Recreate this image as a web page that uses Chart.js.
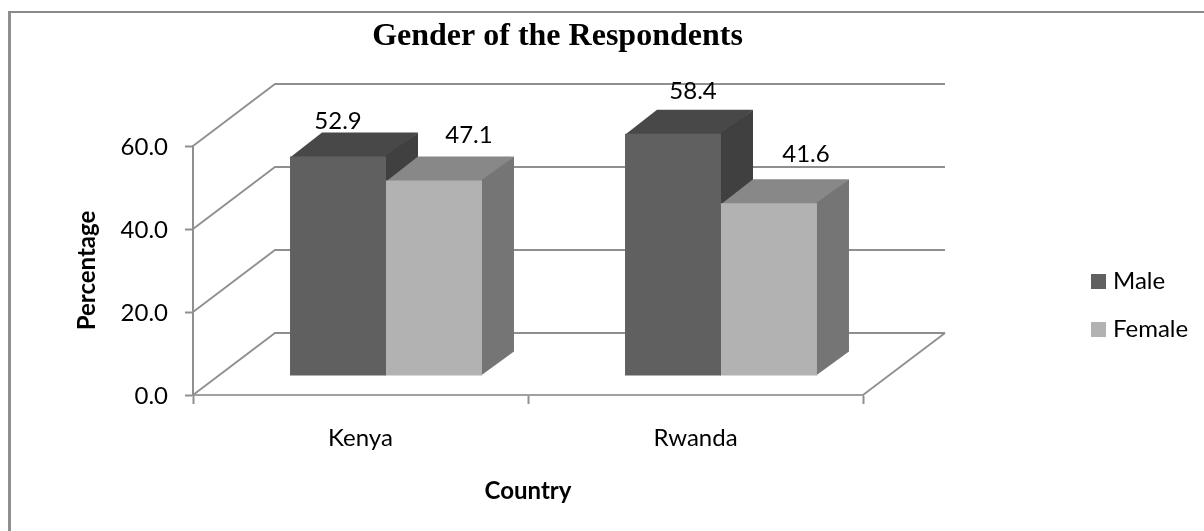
<!DOCTYPE html>
<html>
<head>
<meta charset="utf-8">
<title>Gender of the Respondents</title>
<script src="https://cdn.jsdelivr.net/npm/chart.js@4/dist/chart.umd.min.js"></script>
<style>
  html, body { margin: 0; padding: 0; background: #fff; overflow: hidden; }
  #wrap { position: relative; width: 1204px; height: 531px; }
  #frame { position: absolute; left: 8px; top: 11px; right: 0; bottom: 0;
           border-left: 3px solid #8f8f8f; border-top: 2px solid #8a8a8a; }
  canvas { position: absolute; left: 0; top: 0; }
</style>
</head>
<body>
<div id="wrap">
  <div id="frame"></div>
  <canvas id="chart" width="1204" height="531"></canvas>
</div>
<script>
// data
const chartTitle = "Gender of the Respondents";
const countries = ["Kenya", "Rwanda"];
const seriesNames = ["Male", "Female"];
const maleValues = [52.9, 58.4];
const femaleValues = [47.1, 41.6];
const yTickValues = [0, 20, 40, 60];
const yTickLabels = ["0.0", "20.0", "40.0", "60.0"];

// colours per series: front, top, side
const frontColors = ["#606060", "#b2b2b2"];
const topColors = ["#484848", "#888888"];
const sideColors = ["#404040", "#757575"];

const uiFont = "Lato, 'Open Sans', sans-serif";
const lineColor = "#8f8f8f";

// depth of the box (walls) and of the bars
const wallDepth = { x: 82, y: 62 };
const barShift = { x: 25.5, y: -19 };
const barDepth = { x: 32, y: 24 };

// label positions in the original are hand placed, relative to the top of the bar
// [series][country]
const labelNudge = [
  [[0, -35], [20, -42]],
  [[35, -45], [37, -49]]
];

function polygon(ctx, points, color) {
  ctx.beginPath();
  points.forEach((p, i) => i ? ctx.lineTo(p[0], p[1]) : ctx.moveTo(p[0], p[1]));
  ctx.closePath();
  ctx.fillStyle = color;
  ctx.fill();
}

const box3d = {
  id: "box3d",
  beforeDatasetsDraw(chart) {
    const ctx = chart.ctx;
    const { left, right } = chart.chartArea;
    const y = chart.scales.y;

    // side wall diagonals + back wall gridlines
    ctx.save();
    ctx.strokeStyle = lineColor;
    ctx.lineWidth = 1.8;
    yTickValues.forEach(v => {
      const py = y.getPixelForValue(v);
      ctx.beginPath();
      ctx.moveTo(left, py);
      ctx.lineTo(left + wallDepth.x, py - wallDepth.y);
      ctx.lineTo(right + wallDepth.x, py - wallDepth.y);
      ctx.stroke();
    });
    // right edge of the floor
    const floorY = y.getPixelForValue(0);
    ctx.beginPath();
    ctx.moveTo(right + wallDepth.x, floorY - wallDepth.y);
    ctx.lineTo(right, floorY);
    ctx.stroke();
    ctx.restore();

    // top and side faces go first, the fronts are the real chart.js bars
    ctx.save();
    ctx.translate(barShift.x, barShift.y);
    chart.data.datasets.forEach((ds, i) => {
      chart.getDatasetMeta(i).data.forEach(bar => {
        const l = bar.x - bar.width / 2;
        const r = bar.x + bar.width / 2;
        const t = bar.y;
        const b = bar.base;
        // 1px overlap under the front so no seam shows
        polygon(ctx, [[l, t + 1], [r, t + 1], [r + barDepth.x, t - barDepth.y], [l + barDepth.x, t - barDepth.y]], topColors[i]);
        polygon(ctx, [[r - 1, t], [r + barDepth.x, t - barDepth.y], [r + barDepth.x, b - barDepth.y], [r - 1, b]], sideColors[i]);
      });
    });
    // shift stays on for the bars themselves
    ctx.save();
  },
  afterDatasetsDraw(chart) {
    const ctx = chart.ctx;
    ctx.restore();
    ctx.restore();

    // value labels
    ctx.save();
    ctx.font = "24px " + uiFont;
    ctx.fillStyle = "#000";
    ctx.textAlign = "center";
    ctx.textBaseline = "middle";
    chart.data.datasets.forEach((ds, i) => {
      chart.getDatasetMeta(i).data.forEach((bar, j) => {
        const n = labelNudge[i][j];
        ctx.fillText(ds.data[j].toFixed(1), bar.x + barShift.x + n[0], bar.y + barShift.y + n[1]);
      });
    });

    // title sits off centre, so not the title plugin
    ctx.font = "bold 32px 'Liberation Serif', serif";
    ctx.fillText(chartTitle, 557.5, 37);

    // legend, also off centre
    ctx.font = "24px " + uiFont;
    ctx.textAlign = "left";
    chart.data.datasets.forEach((ds, i) => {
      const top = 274 + i * 48;
      ctx.fillStyle = ds.backgroundColor;
      ctx.fillRect(1091, top, 15, 15);
      ctx.fillStyle = "#000";
      ctx.fillText(ds.label, 1113, top + 7);
    });
    ctx.restore();
  }
};

new Chart(document.getElementById("chart"), {
  type: "bar",
  data: {
    labels: countries,
    datasets: [
      { label: seriesNames[0], data: maleValues, backgroundColor: frontColors[0] },
      { label: seriesNames[1], data: femaleValues, backgroundColor: frontColors[1] }
    ]
  },
  options: {
    responsive: false,
    animation: false,
    layout: { padding: { left: 0, top: 146, right: 341, bottom: 0 } },
    datasets: { bar: { barPercentage: 1, categoryPercentage: 0.573, borderWidth: 0 } },
    plugins: { legend: { display: false }, title: { display: false }, tooltip: { enabled: false } },
    scales: {
      x: {
        afterFit(scale) { scale.height = 136; },
        grid: { drawOnChartArea: false, color: lineColor, tickLength: 9, tickWidth: 2 },
        border: { color: "#a0a0a0", width: 2 },
        ticks: { color: "#000", font: { family: uiFont, size: 24 }, padding: 20, maxRotation: 0 },
        title: {
          display: true, text: "Country", color: "#000",
          font: { family: uiFont, size: 24, weight: "bold" },
          padding: { top: 0, bottom: 25 }
        }
      },
      y: {
        min: 0,
        max: 60,
        afterFit(scale) { scale.width = 193; },
        afterBuildTicks(scale) { scale.ticks = yTickValues.map(v => ({ value: v })); },
        grid: { drawOnChartArea: false, color: lineColor, tickLength: 8, tickWidth: 2 },
        border: { color: lineColor, width: 2 },
        ticks: {
          color: "#000",
          font: { family: uiFont, size: 24 },
          padding: 17,
          labelOffset: 1,
          callback: (v, i) => yTickLabels[i]
        },
        title: {
          display: true, text: "Percentage", color: "#000",
          font: { family: uiFont, size: 24, weight: "bold" },
          padding: { top: 73, bottom: 0 }
        }
      }
    }
  },
  plugins: [box3d]
});
</script>
</body>
</html>
